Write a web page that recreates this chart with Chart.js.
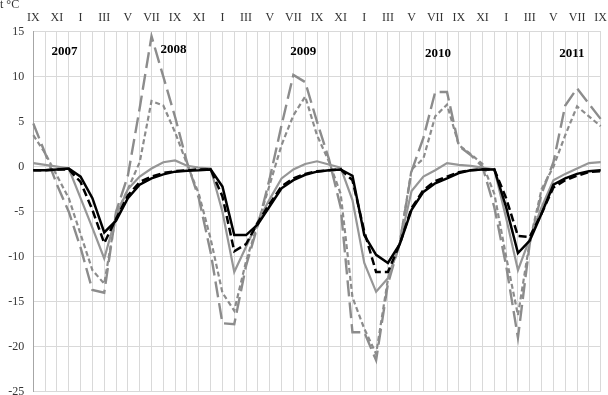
<!DOCTYPE html>
<html>
<head>
<meta charset="utf-8">
<script src="https://cdn.jsdelivr.net/npm/chart.js@4.4.0/dist/chart.umd.min.js"></script>
<style>
  html, body { margin: 0; padding: 0; background: #fff; }
</style>
</head>
<body>
<canvas id="chart" width="608" height="395"></canvas>
<script>
// mois de IX 2007 a IX 2011
const months = ["IX","X","XI","XII","I","II","III","IV","V","VI","VII","VIII",
  "IX","X","XI","XII","I","II","III","IV","V","VI","VII","VIII",
  "IX","X","XI","XII","I","II","III","IV","V","VI","VII","VIII",
  "IX","X","XI","XII","I","II","III","IV","V","VI","VII","VIII","IX"];

const yTicks = [-25, -20, -15, -10, -5, 0, 5, 10, 15];

// tirets longs gris
const longDash = [4.8, 1.5, -2, -5, -9, -13.7, -14, -5, -1, 6.5, 14.5, 10,
  5.5, 0.5, -3.5, -9.5, -17.4, -17.5, -11, -6.5, -1.3, 4.6, 10.2, 9.4,
  5, 0.9, -4.5, -18.4, -18.4, -21.5, -13, -8.5, -0.5, 3.2, 8.3, 8.3,
  2.3, 1.3, 0, -4.5, -11, -19, -8.5, -3, 0.5, 6.8, 8.7, 7, 5.3];

// tirets courts gris
const shortDash = [3.5, 1.5, -1, -3.5, -7.5, -11.5, -13, -5.3, -2.5, 0.5, 7.3, 6.8,
  3.8, 0.3, -3, -8, -14, -16, -10.5, -6.3, -2, 2.4, 5.7, 7.8,
  3.5, 0.6, -3, -14.5, -18, -20.8, -12.5, -8.5, -0.3, 0.9, 5.6, 6.9,
  2.4, 1.4, 0.3, -3, -10, -16.5, -8.3, -2.5, 0, 3.5, 6.7, 5.6, 4.5];

// trait plein gris
const grayLine = [0.4, 0.2, 0, -0.2, -3.5, -6.8, -10.2, -5.5, -2.5, -1.1, -0.2, 0.5,
  0.7, 0.1, -0.1, -0.2, -5, -11.7, -8.9, -6.1, -3.6, -1.3, -0.3, 0.3,
  0.6, 0.25, -0.1, -3.7, -10.7, -13.9, -12.4, -8.5, -2.7, -1.1, -0.4, 0.4,
  0.2, 0.1, -0.1, -0.3, -5.7, -11.5, -8, -4.5, -1.5, -0.8, -0.2, 0.4, 0.5];

// tirets noirs
const blackDash = [-0.4, -0.4, -0.3, -0.3, -1.7, -4.8, -8.5, -5.8, -3.2, -1.7, -1.1, -0.7,
  -0.5, -0.4, -0.3, -0.3, -3.3, -9.4, -8.6, -6.2, -4.1, -2.2, -1.3, -0.8,
  -0.5, -0.4, -0.3, -1.5, -7.2, -11.7, -11.7, -8.6, -4.6, -2.6, -1.6, -1.1,
  -0.6, -0.4, -0.3, -0.3, -3.5, -7.7, -7.8, -5.2, -2.3, -1.5, -1, -0.6, -0.5];

// trait plein noir
const blackLine = [-0.4, -0.4, -0.3, -0.2, -1.1, -3.5, -7.3, -6, -3.5, -2, -1.3, -0.85,
  -0.55, -0.45, -0.4, -0.3, -2.2, -7.6, -7.6, -6.4, -4.4, -2.4, -1.5, -0.9,
  -0.55, -0.4, -0.3, -1, -7.6, -9.8, -10.7, -8.6, -4.8, -2.8, -1.85, -1.3,
  -0.7, -0.4, -0.3, -0.3, -4.5, -9.6, -8.2, -5.2, -2, -1.3, -0.8, -0.5, -0.4];

// annees ecrites dans le graphique
const years = ["2007", "2008", "2009", "2010", "2011"];
const yearAt = [2.64, 11.85, 22.84, 34.24, 45.57];
const yearLevel = [12.8, 13.0, 12.8, 12.6, 12.6];

const grey = '#8c8c8c';

const textes = {
  id: 'textes',
  afterDraw(chart) {
    const ctx = chart.ctx;
    const x = chart.scales.x, y = chart.scales.y;
    ctx.save();
    ctx.fillStyle = '#000';
    ctx.font = 'bold 13px "Liberation Serif"';
    ctx.textAlign = 'center';
    ctx.textBaseline = 'middle';
    years.forEach((t, k) => {
      ctx.fillText(t, x.getPixelForValue(yearAt[k]), y.getPixelForValue(yearLevel[k]));
    });
    ctx.font = '12px "Liberation Serif"';
    ctx.fillStyle = '#333';
    ctx.textAlign = 'left';
    ctx.textBaseline = 'alphabetic';
    ctx.fillText('t °C', 0, 8);
    ctx.restore();
  }
};

const data = {
  labels: months,
  datasets: [
    { data: blackLine, borderColor: '#000', borderWidth: 2.5 },
    { data: blackDash, borderColor: '#000', borderWidth: 2.5, borderDash: [8, 4] },
    { data: grayLine, borderColor: '#969696', borderWidth: 2.2 },
    { data: shortDash, borderColor: grey, borderWidth: 2.2, borderDash: [5, 3] },
    { data: longDash, borderColor: grey, borderWidth: 2.4, borderDash: [16, 6] }
  ]
};

const config = {
  type: 'line',
  data: data,
  options: {
    responsive: false,
    devicePixelRatio: 1,
    animation: false,
    layout: { padding: { left: 0, top: 0, right: 7.3, bottom: 3.3 } },
    elements: { point: { radius: 0 }, line: { tension: 0, fill: false } },
    plugins: { legend: { display: false }, tooltip: { enabled: false } },
    scales: {
      x: {
        position: 'top',
        offset: false,
        grid: { color: '#d9d9d9', drawTicks: false },
        border: { color: '#d9d9d9' },
        ticks: {
          autoSkip: false,
          maxRotation: 0,
          padding: 7,
          color: '#333',
          font: { family: 'Liberation Serif', size: 12 },
          callback: (v, i) => (i % 2 === 0 ? months[i] : '')
        },
        afterFit(s) { s.height = 31.7; s.paddingLeft = 0; s.paddingRight = 0; }
      },
      y: {
        min: -25,
        max: 15,
        grid: { color: '#d9d9d9', drawTicks: false },
        border: { color: '#a6a6a6' },
        ticks: {
          padding: 9,
          color: '#333',
          font: { family: 'Liberation Serif', size: 12 },
          callback: (v) => (yTicks.includes(v) ? v : '')
        },
        afterBuildTicks(s) { s.ticks = yTicks.map(v => ({ value: v })); },
        afterFit(s) { s.width = 33.3; s.paddingTop = 0; s.paddingBottom = 0; }
      }
    }
  },
  plugins: [textes]
};

new Chart(document.getElementById('chart'), config);
</script>
</body>
</html>
